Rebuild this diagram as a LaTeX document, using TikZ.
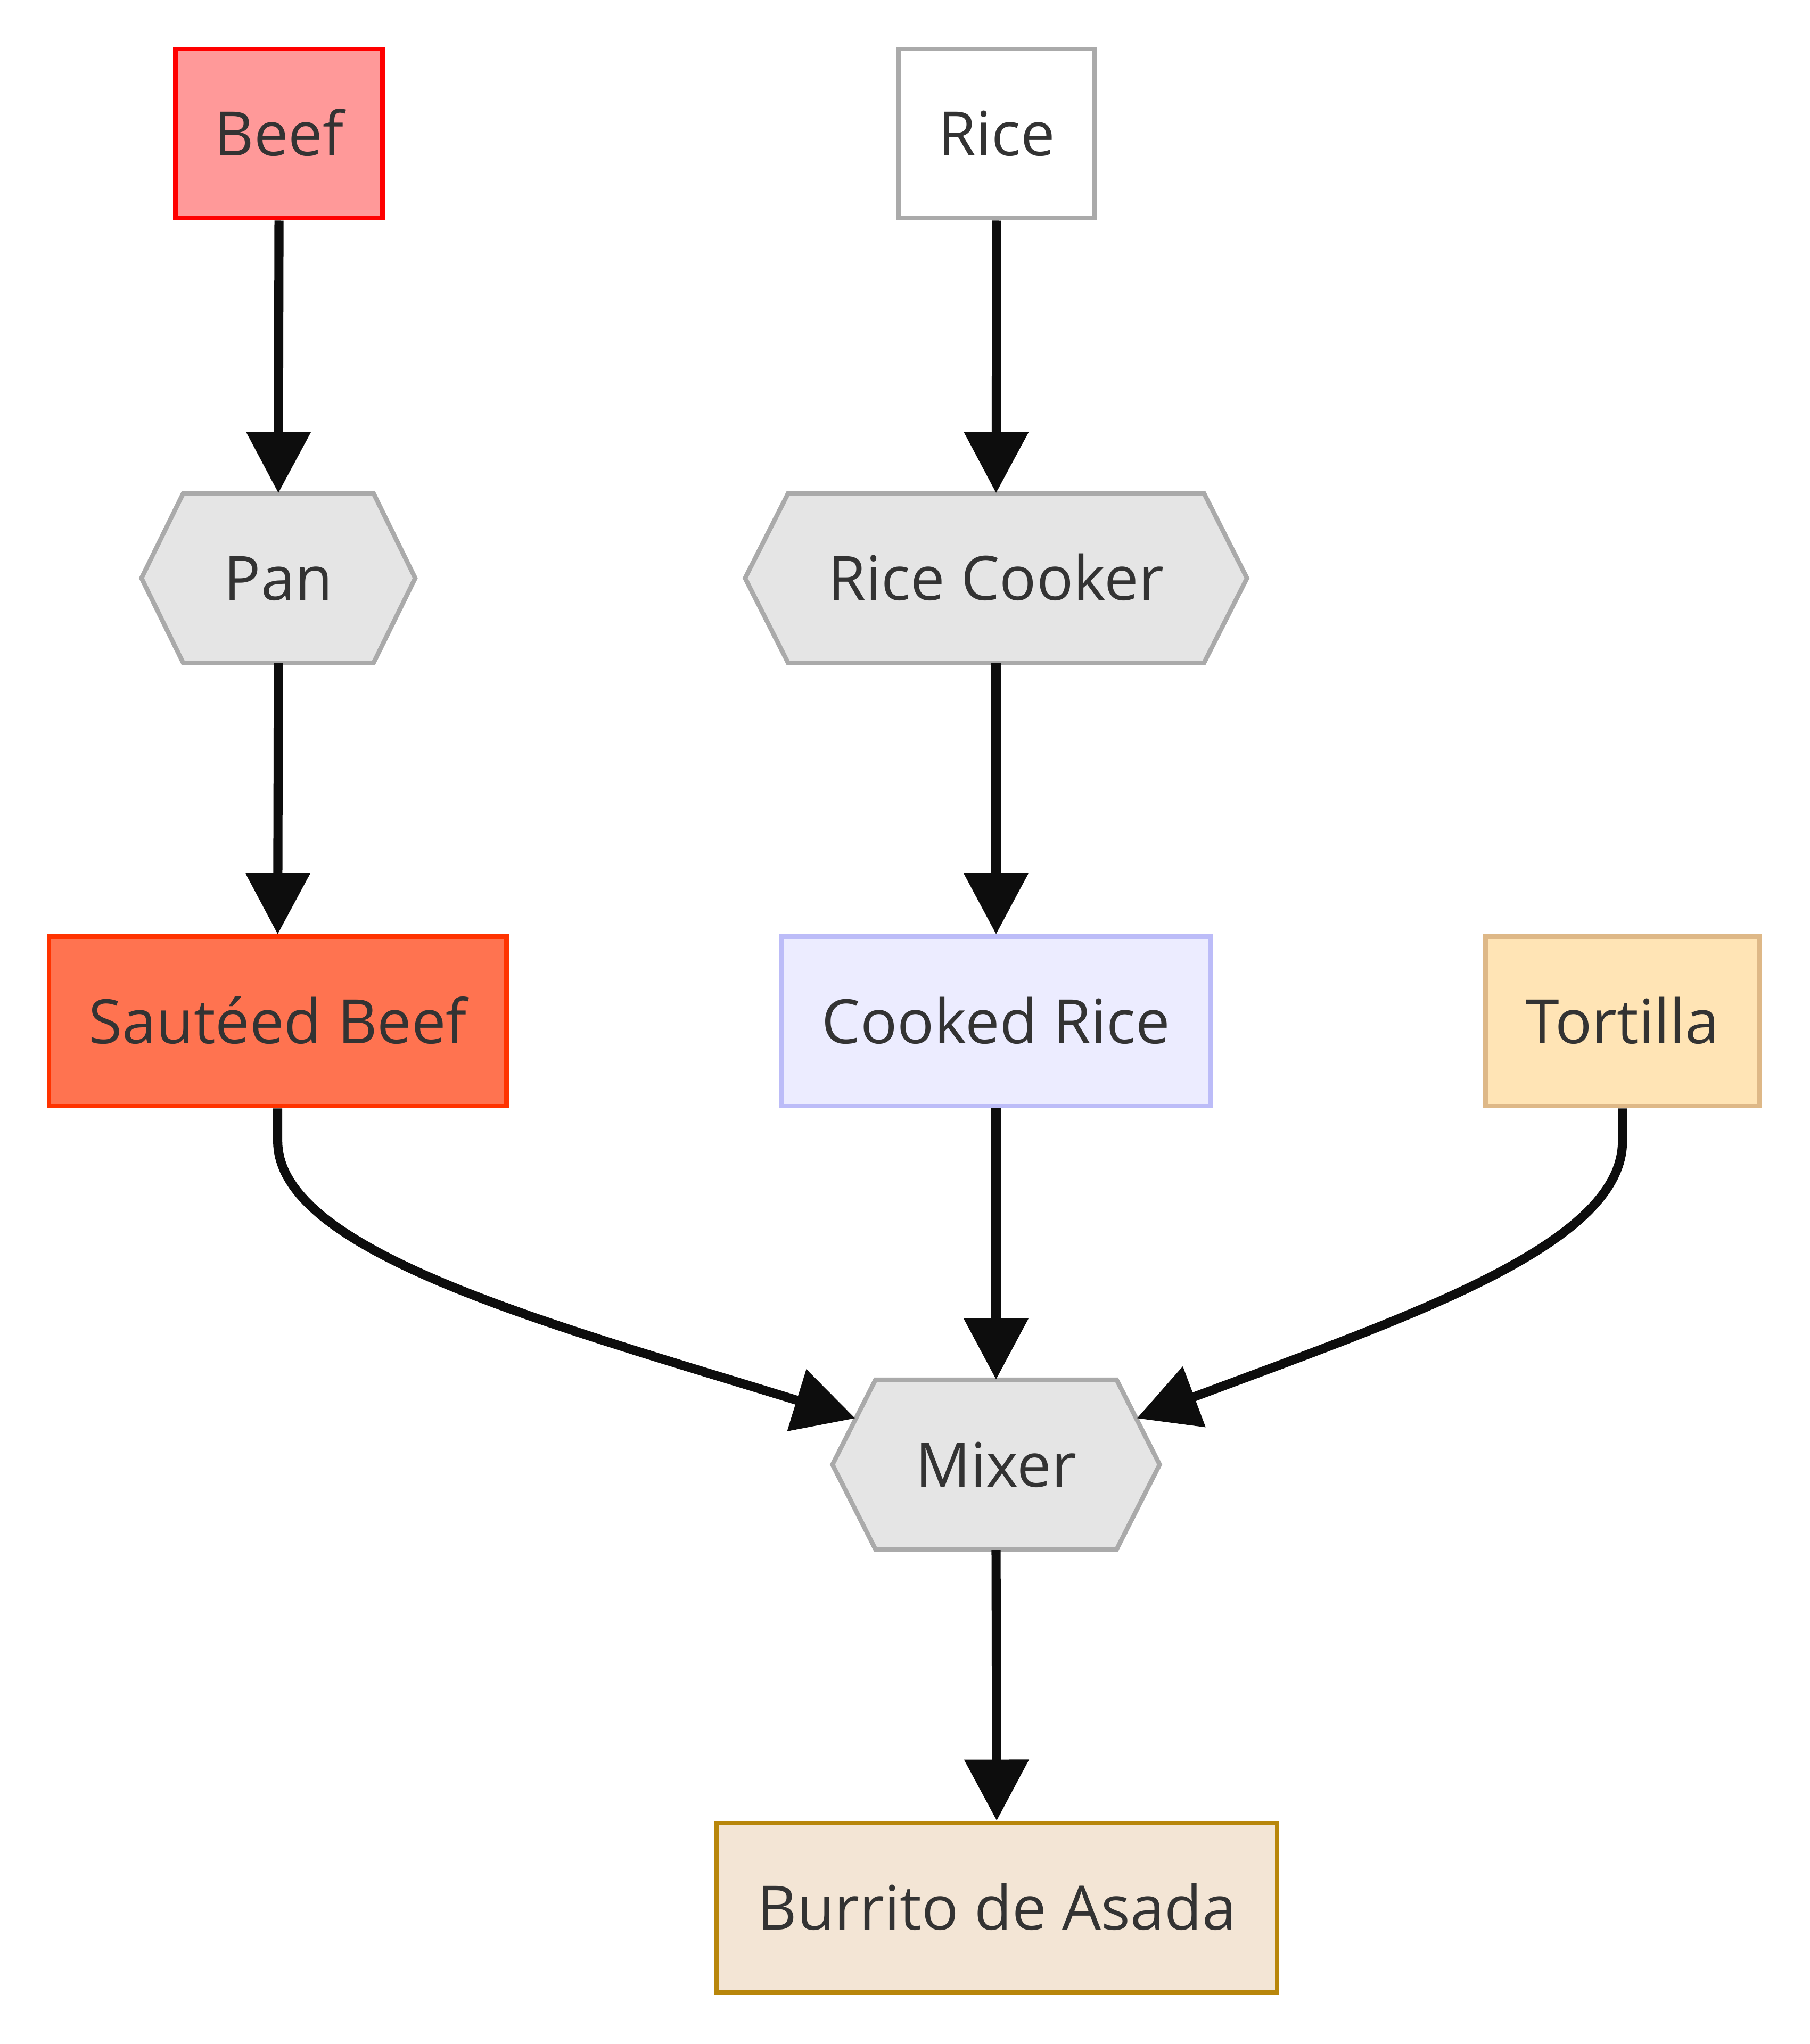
\documentclass[tikz,border=0pt]{standalone}
\usepackage{fontspec}
\setmainfont{Open Sans}
\usetikzlibrary{arrows.meta,calc}
\definecolor{txt}{HTML}{333333}
\definecolor{edgecol}{HTML}{0D0D0D}
\definecolor{beeffill}{HTML}{FF9999}
\definecolor{beefstroke}{HTML}{FF0000}
\definecolor{grayline}{HTML}{AAAAAA}
\definecolor{hexfill}{HTML}{E5E5E5}
\definecolor{sbfill}{HTML}{FF7350}
\definecolor{sbstroke}{HTML}{FF3300}
\definecolor{crfill}{HTML}{ECECFF}
\definecolor{crstroke}{HTML}{BCBCF8}
\definecolor{torfill}{HTML}{FFE4B5}
\definecolor{torstroke}{HTML}{DEB887}
\definecolor{burfill}{HTML}{F3E5D5}
\definecolor{burstroke}{HTML}{B8860B}
\newcommand{\hexagonat}[4]{%
  \draw[hexshape] (#1-#3,#2) -- (#1-#3+#4,#2-65) -- (#1+#3-#4,#2-65) -- (#1+#3,#2) -- (#1+#3-#4,#2+65) -- (#1-#3+#4,#2+65) -- cycle;}
\begin{document}
\begin{tikzpicture}[x=1pt,y=-1pt,
  lbl/.style={text=txt, font=\fontsize{47}{56}\selectfont, text height=34pt, text depth=0pt, inner sep=0pt, minimum height=130pt},
  box/.style={lbl, draw, line width=3.5pt},
  hexlabel/.style={lbl},
  hexshape/.style={draw=grayline, fill=hexfill, line width=3.5pt, line join=miter},
  edge/.style={draw=edgecol, line width=7pt, -{Triangle[length=47pt,width=48pt]}}]
\useasboundingbox (0,0) rectangle (1388,1568);
% nodes
\node[box, draw=beefstroke, fill=beeffill, minimum width=159pt] (beef) at (214,102.5) {Beef};
\node[box, draw=grayline, fill=white, minimum width=150pt] (rice) at (764.5,102.5) {Rice};
\hexagonat{213.5}{443.5}{105}{32}
\node[hexlabel, minimum width=210pt] (pan) at (213.5,443.5) {Pan};
\hexagonat{764}{443.5}{192.5}{33}
\node[hexlabel, minimum width=385pt] (rc) at (764,443.5) {Rice Cooker};
\node[box, draw=sbstroke, fill=sbfill, minimum width=351pt] (sb) at (213,783.5) {Sautéed Beef};
\node[box, draw=crstroke, fill=crfill, minimum width=329pt] (cr) at (764,783.5) {Cooked Rice};
\node[box, draw=torstroke, fill=torfill, minimum width=210pt] (tor) at (1244.5,783.5) {Tortilla};
\hexagonat{764}{1123.5}{125.5}{33}
\node[hexlabel, minimum width=251pt] (mix) at (764,1123.5) {Mixer};
\node[box, draw=burstroke, fill=burfill, minimum width=430pt] (bur) at (764.5,1463.5) {Burrito de Asada};
\coordinate (mixL) at (656,1088);
\coordinate (mixR) at (872,1088);
% edges
\draw[edge] (beef.south) -- (pan.north);
\draw[edge] (rice.south) -- (rc.north);
\draw[edge] (pan.south) -- (sb.north);
\draw[edge] (rc.south) -- (cr.north);
\draw[edge] (cr.south) -- (mix.north);
\draw[edge] (mix.south) -- (bur.north);
\draw[edge] (sb.south) -- ++(0,25) .. controls +(0,85) and (420,1015) .. (mixL);
\draw[edge] (tor.south) -- ++(0,25) .. controls +(0,80) and (1080,1010) .. (mixR);
\end{tikzpicture}
\end{document}
